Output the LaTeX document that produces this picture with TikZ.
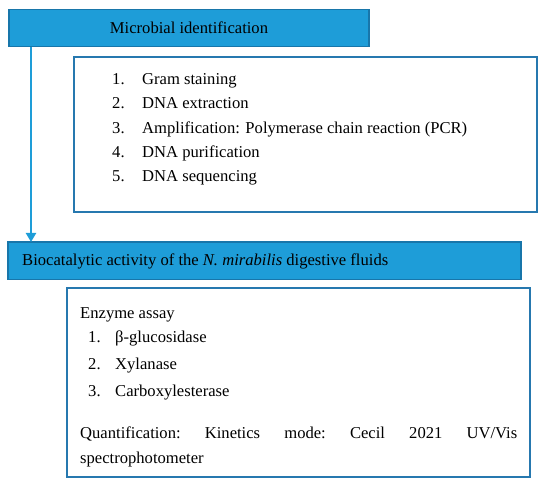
\documentclass[tikz,border=0pt]{standalone}
\usepackage{fontspec}
\setmainfont{Liberation Serif}
\usetikzlibrary{arrows.meta}
\definecolor{fillblue}{RGB}{30,157,216}
\definecolor{edgeblue}{RGB}{24,118,170}
\definecolor{lineblue}{RGB}{38,120,175}
\definecolor{arrowblue}{RGB}{30,157,216}
\tikzset{
  bluebox/.style={draw=edgeblue, fill=fillblue, line width=1.2pt},
  listbox/.style={draw=lineblue, line width=1.3pt},
  txt/.style={inner sep=0pt, anchor=west, text height=11.5pt, text depth=3.5pt, font=\fontsize{16.6}{19}\selectfont},
  flow/.style={draw=arrowblue, line width=2.2pt, -{Triangle[length=9pt,width=10pt]}}
}
\begin{document}
\begin{tikzpicture}[x=1pt,y=-1pt]
\useasboundingbox (0,0) rectangle (550,486);
% top box
\path[bluebox] (9,9.5) rectangle (369,46.5);
\node[txt, anchor=center] (top) at (189,30) {Microbial identification};
% list box 1
\path[listbox] (74,57) rectangle (537,212);
\node[txt] (n1) at (112,80.5) {1.};
\node[txt] (t1) at (142,80.5) {Gram staining};
\node[txt] (n2) at (112,104.8) {2.};
\node[txt] (t2) at (142,104.8) {DNA extraction};
\node[txt] (n3) at (112,129.1) {3.};
\node[txt] (t3) at (142,129.1) {Amplification: Polymerase chain reaction (PCR)};
\node[txt] (n4) at (112,153.4) {4.};
\node[txt] (t4) at (142,153.4) {DNA purification};
\node[txt] (n5) at (112,177.7) {5.};
\node[txt] (t5) at (142,177.7) {DNA sequencing};
% second blue box
\path[bluebox] (8,242) rectangle (521,279.5);
\node[txt] (bio) at (22,261.5) {Biocatalytic activity of the \textit{N.~mirabilis} digestive fluids};
% arrow
\coordinate (as) at (31,47);
\coordinate (ae) at (31,242);
\draw[flow] (as) -- (ae);
% lower box
\path[listbox] (67,288) rectangle (530,477);
\node[txt] (ea) at (80,314.5) {Enzyme assay};
\node[txt] (m1) at (88,339) {1.};
\node[txt] (e1) at (115,339) {β-glucosidase};
\node[txt] (m2) at (88,365.5) {2.};
\node[txt] (e2) at (115,365.5) {Xylanase};
\node[txt] (m3) at (88,392.5) {3.};
\node[txt] (e3) at (115,392.5) {Carboxylesterase};
\node[txt] (q1) at (80,434.5) {\makebox[437pt][s]{Quantification:\hfill Kinetics\hfill mode:\hfill Cecil\hfill 2021\hfill UV/Vis}};
\node[txt] (q2) at (80,459.5) {spectrophotometer};
\end{tikzpicture}
\end{document}
